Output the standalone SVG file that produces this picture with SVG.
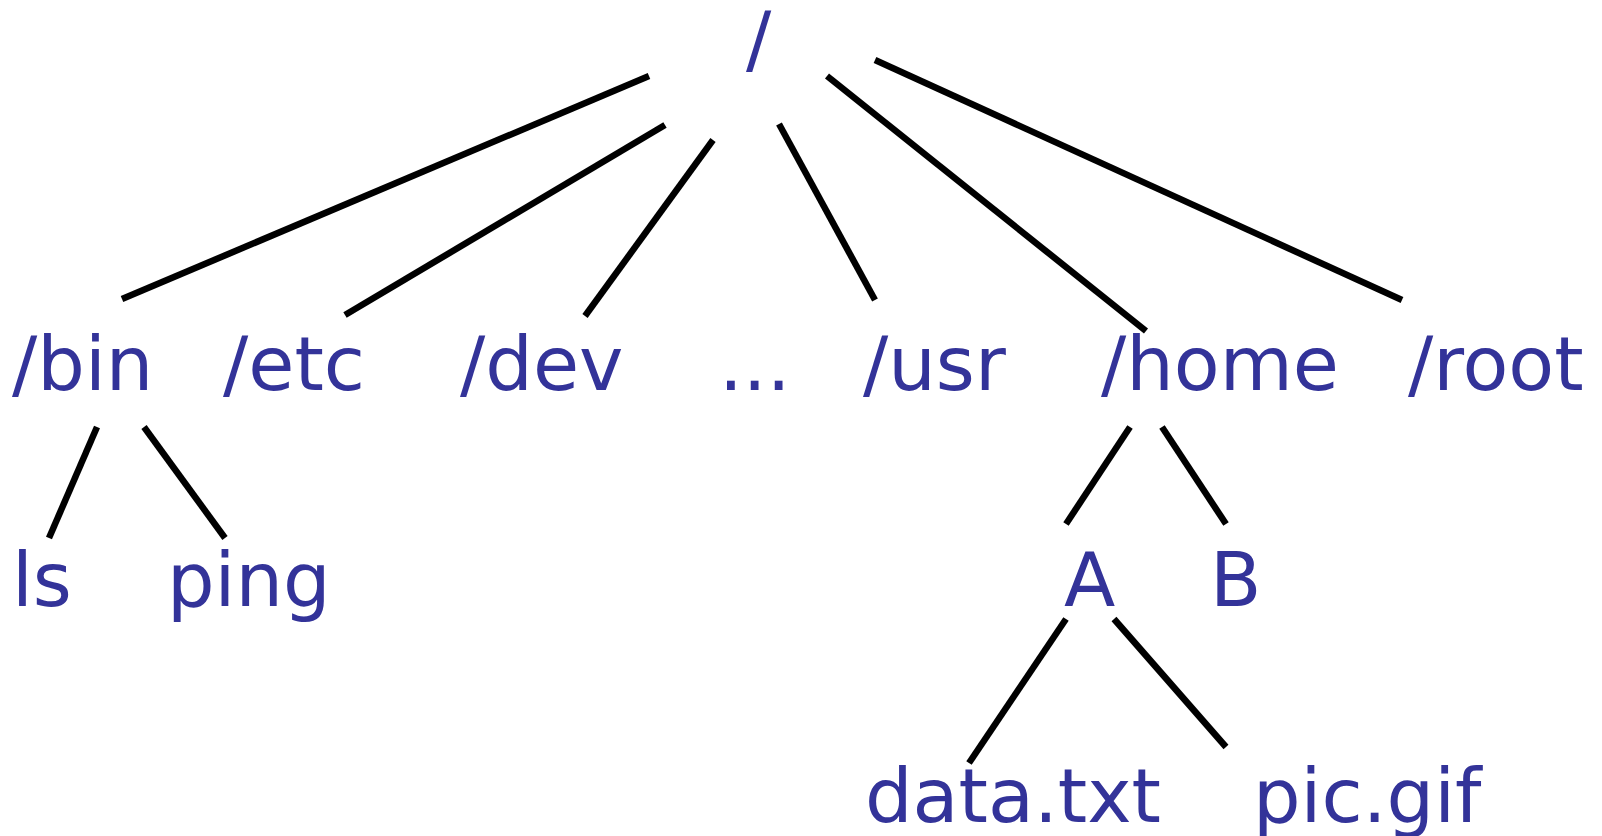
<svg xmlns="http://www.w3.org/2000/svg" width="1602" height="836" viewBox="0 0 1602 836">
<style>
  .lbl { font-family: "DejaVu Sans", "Liberation Sans", sans-serif; font-size: 75px; fill: #333399; }
  .edge { stroke: #000; stroke-width: 6.5; stroke-linecap: butt; fill: none; }
</style>
<rect width="1602" height="836" fill="#fff"/>
<g id="connectors">
  <line class="edge" x1="649" y1="76" x2="122" y2="299"/>
  <line class="edge" x1="665" y1="125" x2="345" y2="315"/>
  <line class="edge" x1="713" y1="140" x2="585" y2="316"/>
  <line class="edge" x1="779" y1="124" x2="875" y2="300"/>
  <line class="edge" x1="827" y1="76" x2="1146" y2="331"/>
  <line class="edge" x1="875" y1="60" x2="1402" y2="300"/>
  <line class="edge" x1="97" y1="427" x2="49" y2="538"/>
  <line class="edge" x1="144" y1="427" x2="225" y2="538"/>
  <line class="edge" x1="1130" y1="427" x2="1066" y2="524"/>
  <line class="edge" x1="1162" y1="427" x2="1226" y2="524"/>
  <line class="edge" x1="1066" y1="619" x2="969" y2="763"/>
  <line class="edge" x1="1114" y1="619" x2="1226" y2="747"/>
</g>
<g id="root"><text class="lbl" x="746" y="65">/</text></g>
<g id="bin"><text class="lbl" x="12" y="390">/bin</text></g>
<g id="etc"><text class="lbl" x="223" y="390">/etc</text></g>
<g id="dev"><text class="lbl" x="460" y="390">/dev</text></g>
<g id="dots"><text class="lbl" x="719" y="390">...</text></g>
<g id="usr"><text class="lbl" x="863" y="390">/usr</text></g>
<g id="home"><text class="lbl" x="1101" y="390">/home</text></g>
<g id="rootdir"><text class="lbl" x="1408" y="390">/root</text></g>
<g id="ls"><text class="lbl" x="12" y="606">ls</text></g>
<g id="ping"><text class="lbl" x="167" y="606">ping</text></g>
<g id="A"><text class="lbl" x="1064" y="606">A</text></g>
<g id="B"><text class="lbl" x="1210" y="606">B</text></g>
<g id="data"><text class="lbl" x="865" y="822">data.txt</text></g>
<g id="pic"><text class="lbl" x="1253" y="822">pic.gif</text></g>
</svg>
